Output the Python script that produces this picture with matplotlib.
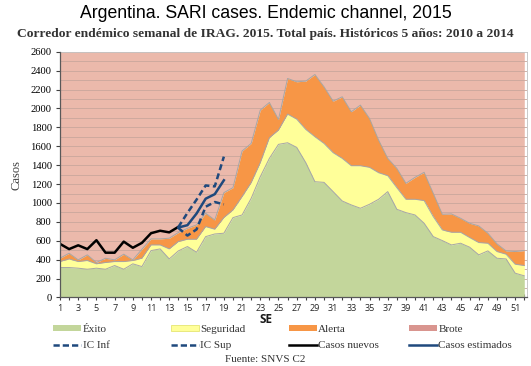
import numpy as np
import matplotlib
matplotlib.use("Agg")
import matplotlib.pyplot as plt
from matplotlib.patches import Patch
from matplotlib.lines import Line2D

# Semanas epidemiológicas
semanas = list(range(1, 53))

# Umbrales del corredor endémico (históricos 2010-2014)
exito = [317, 317, 310, 299, 310, 299, 338, 299, 356, 327,
         496, 514, 408, 493, 539, 479, 644, 672, 680, 845,
         873, 1049, 1278, 1472, 1620, 1637, 1588, 1426, 1225, 1218,
         1120, 1021, 979, 944, 986, 1039, 1120, 933, 898, 873,
         785, 644, 602, 556, 574, 532, 451, 493, 415, 408,
         257, 229]
seguridad = [380, 408, 380, 391, 356, 370, 380, 380, 391, 415,
             556, 556, 514, 592, 616, 616, 750, 722, 845, 926,
             1067, 1215, 1426, 1690, 1771, 1940, 1887, 1778, 1701, 1630,
             1532, 1472, 1394, 1394, 1377, 1320, 1289, 1162, 1039, 1039,
             1025, 856, 715, 690, 690, 634, 581, 574, 486, 458,
             352, 338]
alerta = [415, 468, 398, 451, 370, 415, 398, 458, 398, 510,
          620, 620, 627, 687, 732, 768, 891, 820, 1109, 1162,
          1549, 1630, 1982, 2063, 1884, 2317, 2282, 2289, 2359, 2229,
          2077, 2123, 1965, 2035, 1894, 1665, 1472, 1366, 1208, 1271,
          1324, 1102, 880, 884, 838, 785, 757, 680, 567, 493,
          486, 496]
brote_max = 2600

# Casos notificados 2015
semanas_nuevos = list(range(1, 15))
casos_nuevos = [567, 512, 552, 512, 606, 474, 474, 591, 526, 578,
                680, 706, 689, 747]

semanas_est = [14, 15, 16, 17, 18, 19]
casos_estimados = [740, 765, 888, 1045, 1093, 1240]
ic_inf = [735, 655, 720, 960, 1010, 985]
ic_sup = [745, 895, 1035, 1185, 1175, 1490]

c_exito = "#C3D69B"
c_seg = "#FFFF99"
c_alerta = "#F79646"
c_brote = "#EBB9AB"
c_brote_leg = "#D9958F"
c_azul = "#1F497D"
borde = "#A6A6A6"
guiones = (0, (2.4, 1.4))

plt.rcParams["font.family"] = ["Liberation Serif", "DejaVu Serif"]

fig = plt.figure(figsize=(5.31, 3.66), dpi=100)
ax = fig.add_axes([0.113, 0.1872, 0.8795, 0.6715])

x = np.array(semanas)
techo = np.full(len(x), brote_max)
ax.fill_between(x, alerta, techo, color=c_brote, lw=0, zorder=1)
ax.fill_between(x, seguridad, alerta, color=c_alerta, lw=0, zorder=2)
ax.fill_between(x, exito, seguridad, color=c_seg, lw=0, zorder=2)
ax.fill_between(x, 0, exito, color=c_exito, lw=0, zorder=2)
for serie in (exito, seguridad, alerta):
    ax.plot(x, serie, color=borde, lw=0.7, zorder=3)

# líneas de grilla cada 100 casos, sólo visibles sobre la zona de brote
for yv in range(100, 2600, 100):
    ax.axhline(yv, color="#C9A69C", lw=0.6, zorder=1.5)

ax.plot(semanas_nuevos, casos_nuevos, color="black", lw=1.8, zorder=5)
ax.plot(semanas_est, casos_estimados, color=c_azul, lw=1.8, zorder=5)
ax.plot(semanas_est, ic_inf, color=c_azul, lw=1.8, ls=guiones, zorder=5)
ax.plot(semanas_est, ic_sup, color=c_azul, lw=1.8, ls=guiones, zorder=5)

ax.set_xlim(1, 52.3)
ax.set_ylim(0, 2600)
ax.set_yticks(range(0, 2601, 200))

ax.set_xticks(range(1, 53, 2))
ax.set_xticks(range(2, 53, 2), minor=True)
ax.tick_params(axis="x", which="both", direction="inout", length=5,
               width=0.8, color="#404040", labelsize=6.5, pad=2,
               labelcolor="#262626")
ax.tick_params(axis="y", which="major", direction="out", length=3,
               width=0.8, color="#404040", labelsize=7.6, pad=3)
for lab in ax.get_xticklabels():
    lab.set_fontfamily("Open Sans")

for s in ("left", "bottom"):
    ax.spines[s].set_color("#595959")
    ax.spines[s].set_linewidth(0.9)
    ax.spines[s].set_zorder(6)
for s in ("top", "right"):
    ax.spines[s].set_color("#C0C0C0")
    ax.spines[s].set_linewidth(0.6)

ax.set_ylabel("Casos", fontsize=9, color="#404040", labelpad=6)

fig.text(0.5, 0.962, "Argentina. SARI cases. Endemic channel, 2015",
         ha="center", va="center", fontsize=12.7,
         fontfamily="Liberation Sans")
fig.text(0.5, 0.906,
         "Corredor endémico semanal de IRAG. 2015. Total país. "
         "Históricos 5 años: 2010 a 2014",
         ha="center", va="center", fontsize=9.7, fontweight="bold",
         color="#333333")
fig.text(0.5, 0.127, "SE", ha="center", va="center", fontsize=8.5,
         fontweight="bold", fontfamily="Open Sans", color="#1a1a1a")

# Leyenda en cuatro columnas alineadas
columnas = [
    (0.100, [Patch(facecolor=c_exito, edgecolor="none", label="Éxito"),
             Line2D([], [], color=c_azul, lw=1.8, ls=(0, (2.5, 1.2)),
                    label="IC Inf")]),
    (0.322, [Patch(facecolor=c_seg, edgecolor="#E0E060", lw=0.5,
                   label="Seguridad"),
             Line2D([], [], color=c_azul, lw=1.8, ls=(0, (2.5, 1.2)),
                    label="IC Sup")]),
    (0.544, [Patch(facecolor=c_alerta, edgecolor="none", label="Alerta"),
             Line2D([], [], color="black", lw=1.8, label="Casos nuevos")]),
    (0.770, [Patch(facecolor=c_brote_leg, edgecolor="none", label="Brote"),
             Line2D([], [], color=c_azul, lw=1.8,
                    label="Casos estimados")]),
]
for xpos, handles in columnas:
    fig.legend(handles=handles, loc="upper left",
               bbox_to_anchor=(xpos, 0.113), frameon=False,
               fontsize=8, handlelength=2.5, handleheight=0.55,
               handletextpad=0.15, labelspacing=0.65, borderpad=0,
               borderaxespad=0, labelcolor="#333333")

fig.text(0.5, 0.018, "Fuente: SNVS C2", ha="center", va="center",
         fontsize=8, color="#333333")

fig.savefig("out.png", dpi=100)
